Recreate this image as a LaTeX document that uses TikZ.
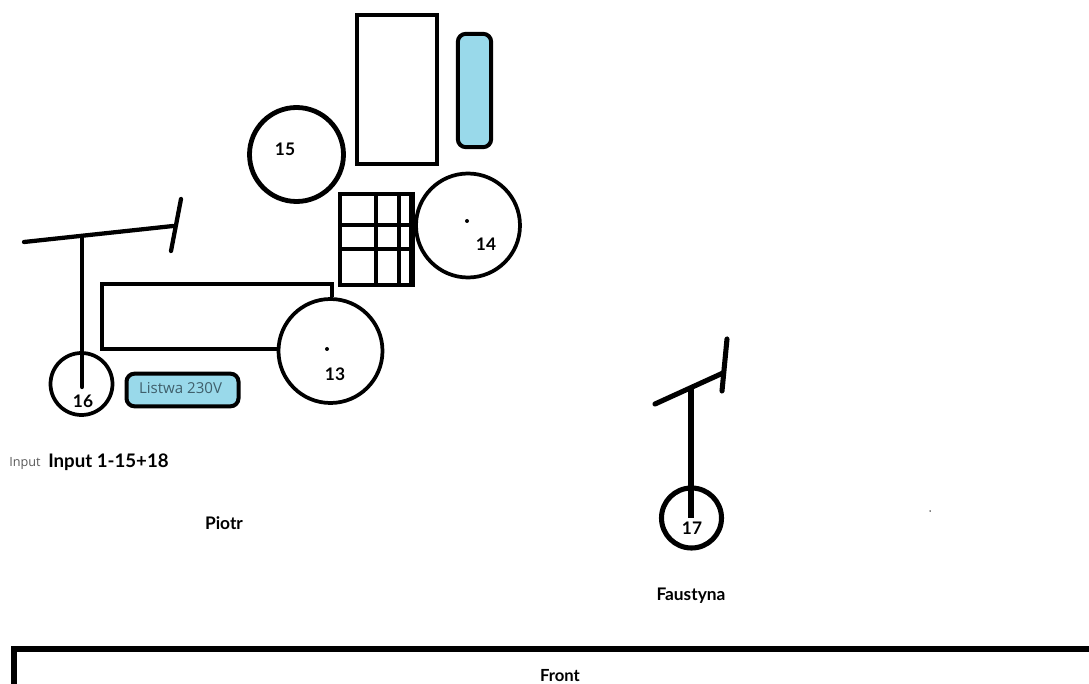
\documentclass[tikz,border=0pt]{standalone}
\usepackage{fontspec}
\setmainfont{Lato}
\newfontfamily\plainfont{Open Sans}
\usetikzlibrary{positioning}
\definecolor{stripblue}{HTML}{99D9EA}
\definecolor{stripink}{HTML}{3F5F6B}
\tikzset{
  disc/.style={circle, draw, line width=2.8pt, inner sep=0pt, minimum size=#1*0.75pt},
  box/.style={rectangle, draw, line width=3pt, inner sep=0pt},
  strip/.style={box, rounded corners=6pt, fill=stripblue},
  tag/.style={font=\bfseries\fontsize{13}{15}\selectfont, inner sep=0pt},
  wire/.style={line width=3pt},
  stand/.style={line width=3.2pt, line cap=round},
  speck/.style={circle, fill, inner sep=0pt, minimum size=#1*0.75pt},
}

\begin{document}
\begin{tikzpicture}[x=0.75pt, y=-0.75pt]
    \useasboundingbox (0,0) rectangle (1089,684);

    \node[box, minimum width=60pt, minimum height=112pt] (rack) at (397,89.5) {};
    \node[strip, minimum width=25pt, minimum height=85pt] (stripa) at (474.5,90.5) {};
    \node[strip, minimum width=84pt, minimum height=24.5pt] (stripb) at (182.5,390) {};
    \node[font=\plainfont\fontsize{11.3}{13}\selectfont, text=stripink, inner sep=0pt] (stripb-t) at (180.5,388.5) {Listwa 230V};

    \node[disc=94, line width=3.6pt] (d15) at (296.5,154.5) {};
    \node[disc=104] (d14) at (468,225.5) {};
    \node[disc=104] (d13) at (330.5,351) {};
    \node[disc=62] (d16) at (81.5,384) {};
    \node[disc=60, line width=3.8pt] (d17) at (691.5,518) {};

    \node[tag] (t15) at (285,149) {15};
    \node[tag] (t14) at (486,244) {14};
    \node[tag] (t13) at (335,374) {13};
    \node[tag] (t16) at (83,401) {16};
    \node[tag] (t17) at (692,528) {17};

    \node[speck=4] (s14) at (467,221) {};
    \node[speck=4] (s13) at (327,349) {};
    \node[speck=1.5] (s0) at (930,511) {};

    % grid
    \node[box, minimum width=54pt, minimum height=68.5pt] (grid) at (376,239.5) {};
    \draw[line width=3pt] (376,194) -- (376,285);
    \draw[line width=2.4pt] (399,194) -- (399,285);
    \draw[line width=4pt] (412,192) -- (412,287);
    \draw[line width=2.6pt] (340,225) -- (412,225);
    \draw[line width=2.6pt] (340,249) -- (412,249);

    % loop into d13
    \coordinate (loopa) at (102,349);
    \coordinate (loopb) at (102,284);
    \coordinate (loopc) at (332,284);
    \draw[wire] (d13.west |- loopa) -- (loopa) -- (loopb) -- (loopc) -- (loopc |- d13.north);

    % stands
    \coordinate (barl) at (24,242);
    \coordinate (barm) at (82,236);
    \coordinate (barr) at (173,226);
    \coordinate (ticka) at (181,199);
    \coordinate (tickb) at (171,251);
    \coordinate (foot) at (82,387);
    \draw[stand] (barl) -- (barr);
    \draw[stand] (ticka) -- (tickb);
    \draw[stand] (barm) -- (foot);

    \coordinate (farl) at (655,404);
    \coordinate (farm) at (691,388);
    \coordinate (farr) at (723,373);
    \coordinate (fticka) at (727,339);
    \coordinate (ftickb) at (722,391);
    \draw[stand, line width=3.8pt] (farl) -- (farr);
    \draw[stand, line width=3.8pt] (fticka) -- (ftickb);
    \draw[line width=3.8pt] (farm) -- (691,518);

    \node[font=\plainfont\fontsize{9.5}{11}\selectfont, text=black!65, inner sep=0pt] (t-in) at (25,463) {Input};
    \node[tag, font=\bfseries\fontsize{14}{16}\selectfont] (t-range) at (108.5,462) {Input 1-15+18};
    \node[tag] (t-piotr) at (224,523) {Piotr};
    \node[tag] (t-faust) at (691,596) {Faustyna};
    \node[tag, font=\bfseries\fontsize{12.5}{14}\selectfont] (t-front) at (560,675.5) {Front};

    % front wall
    \coordinate (walla) at (14,684);
    \coordinate (wallb) at (14,649);
    \coordinate (wallc) at (1089,649);
    \draw[line width=5.2pt] (walla) -- (wallb) -- (wallc);
\end{tikzpicture}
\end{document}
